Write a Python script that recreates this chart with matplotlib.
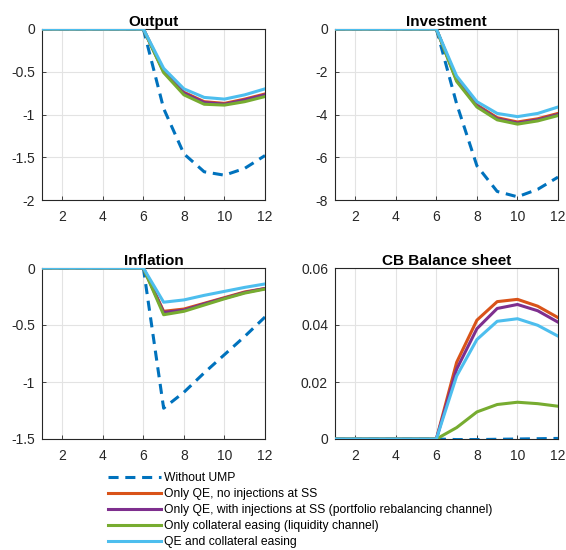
import matplotlib
matplotlib.use("Agg")
import matplotlib.pyplot as plt
import numpy as np

plt.rcParams['font.family'] = ['Liberation Sans', 'DejaVu Sans']

periods = list(range(1, 13))

scenario_labels = [
    "Without UMP",
    "Only QE, no injections at SS",
    "Only QE, with injections at SS (portfolio rebalancing channel)",
    "Only collateral easing (liquidity channel)",
    "QE and collateral easing",
]

zeros6 = [0.0] * 6

# Output responses
output_no_ump = zeros6 + [-0.93, -1.46, -1.67, -1.71, -1.63, -1.48]
output_qe_noinj = zeros6 + [-0.49, -0.74, -0.85, -0.87, -0.82, -0.76]
output_qe_inj = zeros6 + [-0.50, -0.75, -0.86, -0.88, -0.83, -0.77]
output_coll = zeros6 + [-0.51, -0.77, -0.88, -0.89, -0.85, -0.79]
output_qe_coll = zeros6 + [-0.46, -0.70, -0.80, -0.82, -0.77, -0.70]

# Investment responses
inv_no_ump = zeros6 + [-3.5, -6.4, -7.6, -7.85, -7.5, -6.93]
inv_qe_noinj = zeros6 + [-2.35, -3.55, -4.15, -4.35, -4.2, -3.95]
inv_qe_inj = zeros6 + [-2.4, -3.6, -4.2, -4.4, -4.25, -4.0]
inv_coll = zeros6 + [-2.45, -3.65, -4.25, -4.45, -4.3, -4.05]
inv_qe_coll = zeros6 + [-2.2, -3.4, -3.95, -4.1, -3.95, -3.65]

# Inflation responses
infl_no_ump = zeros6 + [-1.23, -1.09, -0.92, -0.76, -0.60, -0.43]
infl_qe_noinj = zeros6 + [-0.38, -0.36, -0.31, -0.26, -0.21, -0.18]
infl_qe_inj = zeros6 + [-0.39, -0.37, -0.315, -0.265, -0.215, -0.18]
infl_coll = zeros6 + [-0.41, -0.38, -0.325, -0.27, -0.22, -0.185]
infl_qe_coll = zeros6 + [-0.30, -0.28, -0.24, -0.205, -0.17, -0.14]

# Central bank balance sheet responses
cb_no_ump = zeros6 + [-0.0002, -0.0002, -0.0001, 0.0, 0.0001, 0.0002]
cb_qe_noinj = zeros6 + [0.0269, 0.0417, 0.0482, 0.0490, 0.0466, 0.0426]
cb_qe_inj = zeros6 + [0.0245, 0.0387, 0.0458, 0.0472, 0.0450, 0.0410]
cb_coll = zeros6 + [0.0040, 0.0095, 0.0121, 0.0129, 0.0124, 0.0115]
cb_qe_coll = zeros6 + [0.0221, 0.0349, 0.0413, 0.0422, 0.0399, 0.0361]

panel_titles = ["Output", "Investment", "Inflation", "CB Balance sheet"]
panel_series = [
    [output_no_ump, output_qe_noinj, output_qe_inj, output_coll, output_qe_coll],
    [inv_no_ump, inv_qe_noinj, inv_qe_inj, inv_coll, inv_qe_coll],
    [infl_no_ump, infl_qe_noinj, infl_qe_inj, infl_coll, infl_qe_coll],
    [cb_no_ump, cb_qe_noinj, cb_qe_inj, cb_coll, cb_qe_coll],
]
panel_yticks = [
    [-2, -1.5, -1, -0.5, 0],
    [-8, -6, -4, -2, 0],
    [-1.5, -1, -0.5, 0],
    [0, 0.02, 0.04, 0.06],
]
panel_yticklabels = [
    ["-2", "-1.5", "-1", "-0.5", "0"],
    ["-8", "-6", "-4", "-2", "0"],
    ["-1.5", "-1", "-0.5", "0"],
    ["0", "0.02", "0.04", "0.06"],
]
xticks = [2, 4, 6, 8, 10, 12]

colors = ["#0072BD", "#D95319", "#7E2F8E", "#77AC30", "#4DBEEE"]

fig = plt.figure(figsize=(5.66, 5.5), dpi=100)

W, H = 566.0, 550.0
boxes = [
    (42, 29, 223, 171),
    (335, 29, 223, 171),
    (42, 268, 223, 171),
    (335, 268, 223, 171),
]

handles = []
for i, (x0, y0, w, h) in enumerate(boxes):
    ax = fig.add_axes([x0 / W, 1 - (y0 + h) / H, w / W, h / H])
    series = panel_series[i]
    for j, vals in enumerate(series):
        if j == 0:
            ln, = ax.plot(periods, vals, color=colors[j], lw=2.2,
                          linestyle=(0, (3.3, 2.2)), zorder=3)
        else:
            ln, = ax.plot(periods, vals, color=colors[j], lw=2.2, zorder=3)
        if i == 0:
            handles.append(ln)
    ax.set_xlim(1, 12)
    yt = panel_yticks[i]
    ax.set_ylim(yt[0], yt[-1])
    ax.set_yticks(yt)
    ax.set_yticklabels(panel_yticklabels[i])
    ax.set_xticks(xticks)
    ax.set_xticklabels([str(t) for t in xticks])
    ax.grid(True, color="#e3e3e3", lw=0.8, zorder=0)
    ax.set_axisbelow(True)
    ax.tick_params(direction="in", length=3, width=0.6, colors="#262626",
                   labelsize=10, labelcolor="#262626",
                   top=False, right=False)
    ax.tick_params(axis="x", pad=7)
    ax.tick_params(axis="y", pad=5)
    for sp in ax.spines.values():
        sp.set_color("#262626")
        sp.set_linewidth(0.8)
    ax.set_title(panel_titles[i], fontsize=11, fontweight="bold",
                 color="black", pad=2)

fig.legend(handles, scenario_labels, loc="upper left",
           bbox_to_anchor=(108 / W, 1 - 472 / H), frameon=False,
           fontsize=8.7, handlelength=4.4, handletextpad=0.2,
           labelspacing=0.33, borderaxespad=0, borderpad=0)

fig.savefig("out.png", dpi=100, facecolor="white")
